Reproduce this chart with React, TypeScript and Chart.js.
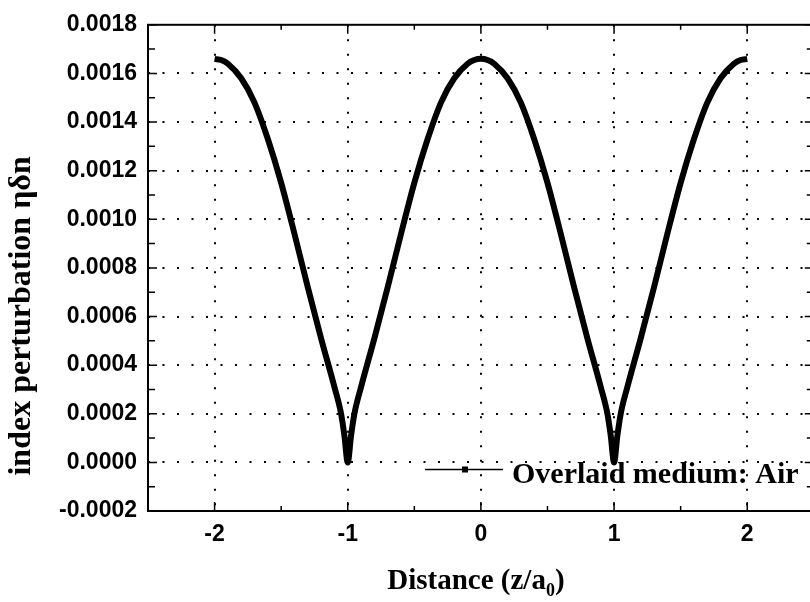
import React, { useEffect, useRef } from "react";
import { Chart, registerables } from "chart.js";

Chart.register(...registerables);

// ---- data ----
const distance = [
  -2, -1.95, -1.9, -1.8, -1.7, -1.6, -1.5, -1.4, -1.3, -1.2, -1.1, -1.05, -1.025, -1,
  -0.975, -0.95, -0.9, -0.8, -0.7, -0.6, -0.5, -0.4, -0.3, -0.2, -0.1, -0.05, 0,
  0.05, 0.1, 0.2, 0.3, 0.4, 0.5, 0.6, 0.7, 0.8, 0.9, 0.95, 0.975, 1,
  1.025, 1.05, 1.1, 1.2, 1.3, 1.4, 1.5, 1.6, 1.7, 1.8, 1.9, 1.95, 2,
];
const perturbation = [
  0.00166, 0.001655, 0.00164, 0.00158, 0.00148, 0.00133, 0.00115, 0.00094, 0.00072, 0.00051, 0.00031, 0.0002, 0.00011, 0.0,
  0.00011, 0.0002, 0.00031, 0.00051, 0.00072, 0.00094, 0.00115, 0.00133, 0.00148, 0.00158, 0.00164, 0.001655, 0.00166,
  0.001655, 0.00164, 0.00158, 0.00148, 0.00133, 0.00115, 0.00094, 0.00072, 0.00051, 0.00031, 0.0002, 0.00011, 0.0,
  0.00011, 0.0002, 0.00031, 0.00051, 0.00072, 0.00094, 0.00115, 0.00133, 0.00148, 0.00158, 0.00164, 0.001655, 0.00166,
];
const xTicks = [-2, -1, 0, 1, 2];
const xMinorTicks = [-1.5, -0.5, 0.5, 1.5];
const yTicks = [-0.0002, 0, 0.0002, 0.0004, 0.0006, 0.0008, 0.001, 0.0012, 0.0014, 0.0016, 0.0018];
const yMinorTicks = [-0.0001, 0.0001, 0.0003, 0.0005, 0.0007, 0.0009, 0.0011, 0.0013, 0.0015, 0.0017];
const seriesLabel = "Overlaid medium: Air";
const xTitleParts = ["Distance (z/a", "0", ")"];
const yTitle = "index perturbation ηδn";

const X_MIN = -2.5;
const X_MAX = 2.5;
const Y_MIN = -0.0002;
const Y_MAX = 0.0018;

const SERIF = '"Liberation Serif", "Times New Roman", serif';
const SANS = '"Liberation Sans", Arial, sans-serif';

const framePlugin = {
  id: "frame",
  beforeDatasetsDraw(chart: any) {
    const { ctx, chartArea } = chart;
    const { left, bottom } = chartArea;
    // legend inside plot area
    const ly = bottom - 41.5;
    const lx0 = left + 277;
    const lx1 = left + 355;
    ctx.save();
    ctx.strokeStyle = "#000";
    ctx.lineWidth = 1.6;
    ctx.beginPath();
    ctx.moveTo(lx0, ly);
    ctx.lineTo(lx1, ly);
    ctx.stroke();
    ctx.fillStyle = "#000";
    ctx.fillRect(left + 314, ly - 3, 6, 6);
    ctx.font = `bold 30px ${SERIF}`;
    ctx.textAlign = "left";
    ctx.textBaseline = "alphabetic";
    ctx.fillText(seriesLabel, left + 364, bottom - 28.5);
    ctx.restore();
  },
  afterDraw(chart: any) {
    const { ctx, chartArea, scales } = chart;
    const { left, right, top, bottom } = chartArea;
    const xs = scales.x;
    const ys = scales.y;
    ctx.save();
    ctx.strokeStyle = "#000";
    ctx.lineWidth = 1.5;
    const major = 9;
    const minor = 5;
    ctx.beginPath();
    xTicks.forEach((v) => {
      const px = xs.getPixelForValue(v);
      ctx.moveTo(px, bottom);
      ctx.lineTo(px, bottom - major);
      ctx.moveTo(px, top);
      ctx.lineTo(px, top + major);
    });
    xMinorTicks.forEach((v) => {
      const px = xs.getPixelForValue(v);
      ctx.moveTo(px, bottom);
      ctx.lineTo(px, bottom - minor);
      ctx.moveTo(px, top);
      ctx.lineTo(px, top + minor);
    });
    yTicks.forEach((v) => {
      const py = ys.getPixelForValue(v);
      ctx.moveTo(left, py);
      ctx.lineTo(left + major, py);
      ctx.moveTo(right, py);
      ctx.lineTo(right - major, py);
    });
    yMinorTicks.forEach((v) => {
      const py = ys.getPixelForValue(v);
      ctx.moveTo(left, py);
      ctx.lineTo(left + minor + 2, py);
      ctx.moveTo(right, py);
      ctx.lineTo(right - minor - 2, py);
    });
    ctx.stroke();
    // frame
    ctx.lineWidth = 2;
    ctx.strokeRect(left, top, right - left, bottom - top);

    // x title with subscript
    ctx.fillStyle = "#000";
    ctx.textBaseline = "alphabetic";
    ctx.textAlign = "left";
    const mainFont = `bold 29px ${SERIF}`;
    const subFont = `bold 18px ${SERIF}`;
    ctx.font = mainFont;
    const w0 = ctx.measureText(xTitleParts[0]).width;
    const w2 = ctx.measureText(xTitleParts[2]).width;
    ctx.font = subFont;
    const w1 = ctx.measureText(xTitleParts[1]).width;
    const total = w0 + w1 + w2;
    const cx = (left + right) / 2 - 5;
    const base = bottom + 78;
    let x = cx - total / 2;
    ctx.font = mainFont;
    ctx.fillText(xTitleParts[0], x, base);
    x += w0;
    ctx.font = subFont;
    ctx.fillText(xTitleParts[1], x, base + 7);
    x += w1;
    ctx.font = mainFont;
    ctx.fillText(xTitleParts[2], x, base);

    // y title
    ctx.save();
    ctx.translate(22, (top + bottom) / 2 + 48);
    ctx.rotate(-Math.PI / 2);
    ctx.font = `bold 32px ${SERIF}`;
    ctx.textAlign = "center";
    ctx.textBaseline = "middle";
    ctx.fillText(yTitle, 0, 0);
    ctx.restore();

    ctx.restore();
  },
};

const isEdge = (v: number) => Math.abs(v - Y_MAX) < 1e-9 || Math.abs(v - Y_MIN) < 1e-9;

export default function App() {
  const canvasRef = useRef<HTMLCanvasElement | null>(null);

  useEffect(() => {
    const canvas = canvasRef.current;
    if (!canvas) return;
    const tickFont = { family: SANS, size: 23, weight: "bold" as const };
    const chart = new Chart(canvas, {
      type: "line",
      data: {
        datasets: [
          {
            label: seriesLabel,
            data: distance.map((d, i) => ({ x: d, y: perturbation[i] })),
            borderColor: "#000",
            backgroundColor: "#000",
            borderWidth: 6,
            pointRadius: 0,
            cubicInterpolationMode: "monotone",
            fill: false,
            borderCapStyle: "butt",
            borderJoinStyle: "round",
          },
        ],
      },
      options: {
        responsive: false,
        animation: false,
        devicePixelRatio: 1,
        layout: { padding: { left: 0, top: 21.5, right: 16.2, bottom: 0 } },
        plugins: {
          legend: { display: false },
          tooltip: { enabled: false },
        },
        scales: {
          x: {
            type: "linear",
            min: X_MIN,
            max: X_MAX,
            afterBuildTicks: (s: any) => {
              s.ticks = xTicks.map((v) => ({ value: v }));
            },
            afterFit: (s: any) => {
              s.height = 91;
            },
            ticks: {
              font: tickFont,
              color: "#000",
              padding: 10,
              callback: (v: any) => Number(v).toFixed(0),
            },
            grid: {
              color: "#000",
              lineWidth: 2,
              drawTicks: false,
            },
            border: { display: false, dash: [2, 12.5] },
          },
          y: {
            type: "linear",
            min: Y_MIN,
            max: Y_MAX,
            afterBuildTicks: (s: any) => {
              s.ticks = yTicks.map((v) => ({ value: v }));
            },
            afterFit: (s: any) => {
              s.width = 148;
            },
            ticks: {
              font: tickFont,
              color: "#000",
              padding: 11,
              callback: (v: any) => Number(v).toFixed(4),
            },
            grid: {
              color: (c: any) => (c.tick && isEdge(c.tick.value) ? "rgba(0,0,0,0)" : "#000"),
              lineWidth: 2,
              drawTicks: false,
            },
            border: { display: false, dash: [2, 12.5] },
          },
        },
      } as any,
      plugins: [framePlugin],
    });
    return () => chart.destroy();
  }, []);

  return (
    <div
      style={{
        position: "fixed",
        left: 0,
        top: 0,
        width: 810,
        height: 602,
        overflow: "hidden",
        background: "#fff",
      }}
    >
      <canvas ref={canvasRef} width={830} height={602} style={{ display: "block", width: 830, height: 602 }} />
    </div>
  );
}
